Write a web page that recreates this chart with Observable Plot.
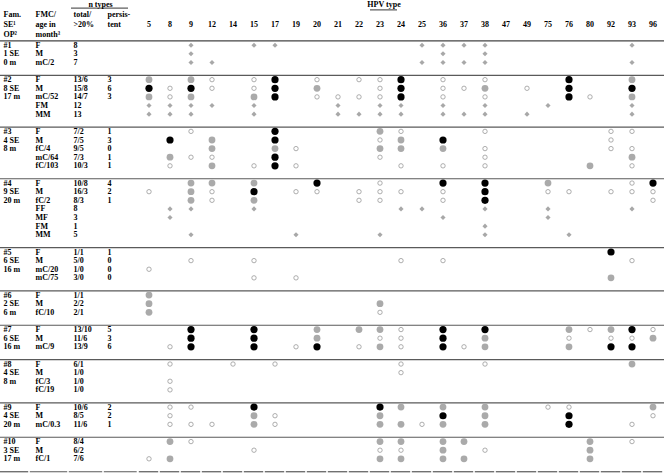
<!DOCTYPE html>
<html><head><meta charset="utf-8">
<script src="https://cdn.jsdelivr.net/npm/d3@7"></script>
<script src="https://cdn.jsdelivr.net/npm/@observablehq/plot@0.6"></script>
<style>body{margin:0;background:#fff;}</style>
</head><body><div id="chart"></div>
<script>
// ---------- data ----------
const hpvTypes = ["5","8","9","12","14","15","17","19","20","21","22","23","24","25","36","37","38","47","49","75","76","80","92","93","96"];
const famIds = ["#1","#2","#3","#4","#5","#6","#7","#8","#9","#10"];
const famSE  = ["1 SE","8 SE","4 SE","9 SE","6 SE","2 SE","6 SE","4 SE","4 SE","3 SE"];
const famAge = ["0 m","17 m","8 m","20 m","16 m","6 m","16 m","8 m","20 m","17 m"];
const members = [
  ["F","M","mC/2"],
  ["F","M","mC/52","FM","MM"],
  ["F","M","fC/4","mC/64","fC/103"],
  ["F","M","fC/2","FF","MF","FM","MM"],
  ["F","M","mC/20","mC/75"],
  ["F","M","fC/10"],
  ["F","M","mC/9"],
  ["F","M","fC/3","fC/19"],
  ["F","M","mC/0.3"],
  ["F","M","fC/1"]
];
const totals = [
  ["8","3","7"],
  ["13/6","15/8","14/7","12","13"],
  ["7/2","7/5","9/5","7/3","10/3"],
  ["10/8","16/3","8/3","8","3","1","5"],
  ["1/1","5/0","1/0","3/0"],
  ["1/1","2/2","2/1"],
  ["13/10","11/6","13/9"],
  ["6/1","1/0","1/0","1/0"],
  ["10/6","8/5","11/6"],
  ["8/4","6/2","7/6"]
];
const persistent = [
  ["","",""],
  ["3","6","3","",""],
  ["1","3","0","1","1"],
  ["4","2","1","","","",""],
  ["1","0","0","0"],
  ["","",""],
  ["5","3","6"],
  ["","","",""],
  ["2","2","1"],
  ["","",""]
];
// b = persistent (black), g = >20% (grey), o = detected (open), d = deduced (diamond)
const findings = [
  ["9d 15d 17d 25d 36d 37d 38d 93d",
   "9d 36d 38d",
   "9d 12d 25d 36d 37d 38d 93d"],
  ["5g 9g 12o 15o 17b 20o 22o 23o 24b 36o 38o 76b 93g",
   "5b 8o 9b 12o 15o 17b 20g 23o 24b 36o 37o 38g 49o 76b 93b",
   "5g 8o 9g 15g 17b 20o 21o 22o 23o 24b 36o 38o 76b 80o 93g",
   "5d 8d 9d 12d 15d 21d 23d 24d 36d 38d 75d 93d",
   "5d 8d 9d 15d 21d 22d 23d 24d 36d 37d 38d 49d 93d"],
  ["9o 17b 23g 24o 38o 92o 93o",
   "8b 12g 17b 23o 24g 36b 92o",
   "12g 17g 19o 23g 24g 36g 38o 92o 93o",
   "8g 9o 12o 17b 23o 38o 93g",
   "8o 12g 15o 17b 19o 24o 36o 38o 80g 93o"],
  ["9g 12g 15g 20b 23o 36b 38b 75g 93o 96b",
   "5o 9g 12o 15b 19o 20o 22o 23o 24o 36o 38b 75o 76o 92o 93o 96o",
   "9g 12o 15g 22o 23o 36o 38b 96o",
   "8d 9d 15d 24d 25d 38d 75d 93d",
   "8d 36d 75d",
   "38d",
   "9d 19d 23d 38d 76d"],
  ["92b",
   "9o 15o 24o 36o 93o",
   "5o",
   "15o 19o 92g"],
  ["5g",
   "5g 23g",
   "5g 23o"],
  ["9b 15b 20g 22g 23g 24o 36b 38b 76g 80o 92g 93b 96o",
   "9b 15b 20g 23o 24o 36b 38g 76o 92o 93o 96g",
   "8o 9b 15b 19o 20b 22o 23g 24o 36b 37o 38g 76g 92b 93b"],
  ["8o 14o 17o 24o 38o 93g",
   "24o",
   "8o",
   "8o"],
  ["8o 9o 15b 23b 24g 36g 38g 75o 76o 96g",
   "8o 15g 17o 23g 36b 38g 76b 96o",
   "8o 9o 12o 15g 17o 23g 24g 25o 36g 38g 76b 93o"],
  ["8g 9o 23g 24g 36g 37g 80g 93o",
   "15o 23o 24o 36g 38o 80g",
   "5o 8g 23g 24g 36g 37g 80g"]
];
const headerRow2 = ["Fam.","FMC/","total/","persis-"];
const headerRow3 = ["SE\u00B9","age in",">20%","tent"];
const headerRow4 = ["OP\u00B2","month\u00B3"];

// ---------- layout ----------
const W = 664, H = 473;
const Y0 = 44.7, PITCH = 8.617;
const py = px => (px - Y0) / PITCH;
const colX = [3, 35, 73, 107];
const font = {fontFamily: "Liberation Serif, Times New Roman, serif", fontWeight: "bold", fontSize: 8, fill: "#000"};

// ---------- build tables ----------
const rows = [], famLabels = [], dots = [], groupLines = [];
let slot = 0;
members.forEach((mem, g) => {
  groupLines.push(slot - 0.5);
  [famIds[g], famSE[g], famAge[g]].forEach((t, i) => famLabels.push({slot: slot + i, text: t}));
  mem.forEach((m, i) => {
    const s = slot + i;
    rows.push({slot: s, member: m, total: totals[g][i], persist: persistent[g][i]});
    findings[g][i].split(/\s+/).filter(Boolean).forEach(tok => {
      const mt = tok.match(/^(\d+)([bgod])$/);
      dots.push({slot: s, type: mt[1], kind: mt[2]});
    });
  });
  slot += mem.length + 1;
});
const bottomLine = slot - 0.5;
groupLines.shift(); // first boundary is the header rule
const headerLine = -0.5;

const leftText = (data, col, text) => Plot.text(data, {y: "slot", text, frameAnchor: "left", dx: colX[col], textAnchor: "start", ...font});
const hdrText = (labels, ypx) => labels.map((t, i) => Plot.text([t], {y: () => py(ypx), text: d => d, frameAnchor: "left", dx: colX[i], textAnchor: "start", ...font}));

const leftBounds = [0, 29, 68, 103, 137.5];

const chart = Plot.plot({
  width: W, height: H,
  marginTop: 0, marginBottom: 0, marginLeft: 0, marginRight: 0,
  style: {background: "#fff"},
  x: {type: "band", domain: hpvTypes, range: [137.5, 662.5], padding: 0, axis: null},
  y: {type: "linear", domain: [0, 48], range: [Y0, Y0 + 48 * PITCH], axis: null},
  marks: [
    // rules
    Plot.ruleY([headerLine], {stroke: "#444", strokeWidth: 1.2}),
    Plot.ruleY(groupLines, {stroke: "#5a5a5a", strokeWidth: 1.2}),
    ...leftBounds.slice(0, -1).map((a, i) => Plot.ruleY([bottomLine], {insetLeft: a + (i ? 0.8 : 0), insetRight: W - leftBounds[i + 1] + 0.8, stroke: "#5a5a5a", strokeWidth: 1.2})),
    Plot.tickY(hpvTypes, {x: d => d, y: () => bottomLine, insetLeft: 0.8, insetRight: 0.8, stroke: "#5a5a5a", strokeWidth: 1.2}),
    // header
    Plot.text(["n types"], {y: () => py(3.6), frameAnchor: "left", dx: 100, textAnchor: "middle", ...font}),
    Plot.ruleY([py(7.6)], {insetLeft: 71, insetRight: W - 128, stroke: "#000", strokeWidth: 0.8}),
    Plot.text(["HPV type"], {y: () => py(4.2), frameAnchor: "left", dx: 383.5, textAnchor: "middle", ...font}),
    Plot.ruleY([py(9.4)], {insetLeft: 370, insetRight: W - 397, stroke: "#000", strokeWidth: 0.8}),
    ...hdrText(headerRow2, 14),
    ...hdrText(headerRow3, 24),
    ...hdrText(headerRow4, 34.3),
    Plot.text(hpvTypes, {x: d => d, y: () => py(24), text: d => d, ...font}),
    // left columns
    leftText(famLabels, 0, "text"),
    leftText(rows, 1, "member"),
    leftText(rows, 2, "total"),
    leftText(rows, 3, "persist"),
    // markers
    Plot.dot(dots.filter(d => d.kind === "d"), {x: "type", y: "slot", symbol: "diamond2", r: 2.3, fill: "#a8a8a8"}),
    Plot.dot(dots.filter(d => d.kind === "o"), {x: "type", y: "slot", r: 2.2, fill: "none", stroke: "#999", strokeWidth: 0.8}),
    Plot.dot(dots.filter(d => d.kind === "g"), {x: "type", y: "slot", r: 3.4, fill: "#aaaaaa"}),
    Plot.dot(dots.filter(d => d.kind === "b"), {x: "type", y: "slot", r: 3.6, fill: "#000"})
  ]
});
document.getElementById("chart").appendChild(chart);
</script>
</body></html>
